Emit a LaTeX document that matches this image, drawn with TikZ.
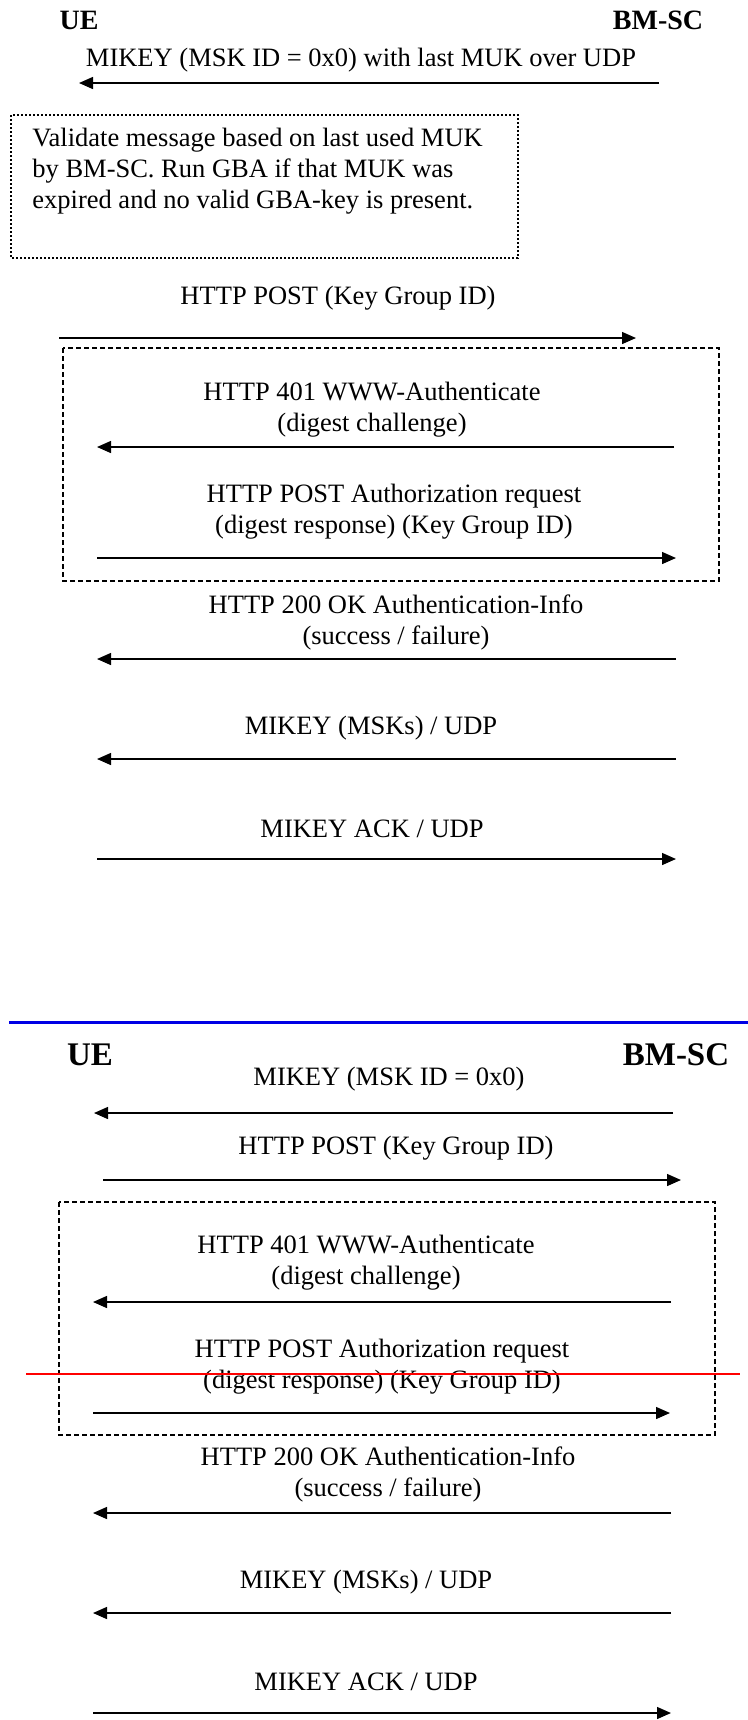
\documentclass[tikz,border=0pt]{standalone}
\usepackage{fontspec}
\setmainfont{Liberation Serif}
\usetikzlibrary{arrows.meta}

\tikzset{
	msg/.style={-{Triangle[length=7pt,width=6pt]}, line width=0.7pt},
	lbl/.style={font=\fontsize{13.25}{15.5}\selectfont, align=center, inner sep=0pt},
	ent/.style={font=\fontsize{14}{16}\selectfont\bfseries, inner sep=0pt},
	entbig/.style={font=\fontsize{16.5}{18}\selectfont\bfseries, inner sep=0pt},
	loopbox/.style={dash pattern=on 2.5pt off 1.5pt, line width=1pt},
	notebox/.style={dash pattern=on 1pt off 1pt, line width=1.1pt},
}

\begin{document}
\begin{tikzpicture}[x=0.5pt, y=-0.5pt]
		\useasboundingbox (0,0) rectangle (748,1720);
		% first flow
		\node[ent] (ue1) at (79,20) {UE};
		\node[ent] (bmsc1) at (658,20) {BM-SC};
		\coordinate (a1s) at (659,83);
		\coordinate (a1e) at (79,83);
		\node[lbl] (l1) at (361,60) {MIKEY (MSK ID = 0x0) with last MUK over UDP};
		\draw[msg] (a1s) -- (a1e);
		\draw[notebox] (11,115) rectangle (518,258);
		\node[lbl, align=left, anchor=west] (note) at (32,171) {Validate message based on last used MUK\\by BM-SC. Run GBA if that MUK was\\expired and no valid GBA-key is present.};
		\coordinate (a2s) at (59,338);
		\coordinate (a2e) at (636,338);
		\node[lbl] (l2) at (338,298) {HTTP POST (Key Group ID)};
		\draw[msg] (a2s) -- (a2e);
		\draw[loopbox] (63,348) rectangle (719,581);
		\coordinate (a3s) at (674,447);
		\coordinate (a3e) at (97,447);
		\node[lbl] (l3) at (372,410) {HTTP 401 WWW-Authenticate\\(digest challenge)};
		\draw[msg] (a3s) -- (a3e);
		\coordinate (a4s) at (97,558);
		\coordinate (a4e) at (676,558);
		\node[lbl] (l4) at (394,512) {HTTP POST Authorization request\\(digest response) (Key Group ID)};
		\draw[msg] (a4s) -- (a4e);
		\coordinate (a5s) at (676,659);
		\coordinate (a5e) at (97,659);
		\node[lbl] (l5) at (396,622) {HTTP 200 OK Authentication-Info\\(success / failure)};
		\draw[msg] (a5s) -- (a5e);
		\coordinate (a6s) at (676,759);
		\coordinate (a6e) at (97,759);
		\node[lbl] (l6) at (371,728) {MIKEY (MSKs) / UDP};
		\draw[msg] (a6s) -- (a6e);
		\coordinate (a7s) at (97,859);
		\coordinate (a7e) at (676,859);
		\node[lbl] (l7) at (372,829) {MIKEY ACK / UDP};
		\draw[msg] (a7s) -- (a7e);
		% separator
		\coordinate (sepl) at (9,1022);
		\coordinate (sepr) at (748,1022);
		\draw[blue!90!black, line width=1.5pt] (sepl) -- (sepr);
		% second flow
		\node[entbig] (ue2) at (90,1055) {UE};
		\node[entbig] (bmsc2) at (676,1055) {BM-SC};
		\coordinate (b1s) at (673,1113);
		\coordinate (b1e) at (94,1113);
		\node[lbl] (k1) at (389,1079) {MIKEY (MSK ID = 0x0)};
		\draw[msg] (b1s) -- (b1e);
		\coordinate (b2s) at (103,1180);
		\coordinate (b2e) at (681,1180);
		\node[lbl] (k2) at (396,1148) {HTTP POST (Key Group ID)};
		\draw[msg] (b2s) -- (b2e);
		\draw[loopbox] (59,1202) rectangle (715,1435);
		\coordinate (b3s) at (671,1302);
		\coordinate (b3e) at (93,1302);
		\node[lbl] (k3) at (366,1263) {HTTP 401 WWW-Authenticate\\(digest challenge)};
		\draw[msg] (b3s) -- (b3e);
		\coordinate (b4s) at (93,1413);
		\coordinate (b4e) at (670,1413);
		\node[lbl] (k4) at (382,1367) {HTTP POST Authorization request\\(digest response) (Key Group ID)};
		\draw[msg] (b4s) -- (b4e);
		\coordinate (redl) at (26,1374);
		\coordinate (redr) at (740,1374);
		\draw[red, line width=1pt] (redl) -- (redr);
		\coordinate (b5s) at (671,1513);
		\coordinate (b5e) at (93,1513);
		\node[lbl] (k5) at (388,1474) {HTTP 200 OK Authentication-Info\\(success / failure)};
		\draw[msg] (b5s) -- (b5e);
		\coordinate (b6s) at (671,1613);
		\coordinate (b6e) at (93,1613);
		\node[lbl] (k6) at (366,1582) {MIKEY (MSKs) / UDP};
		\draw[msg] (b6s) -- (b6e);
		\coordinate (b7s) at (93,1713);
		\coordinate (b7e) at (671,1713);
		\node[lbl] (k7) at (366,1682) {MIKEY ACK / UDP};
		\draw[msg] (b7s) -- (b7e);
\end{tikzpicture}
\end{document}
